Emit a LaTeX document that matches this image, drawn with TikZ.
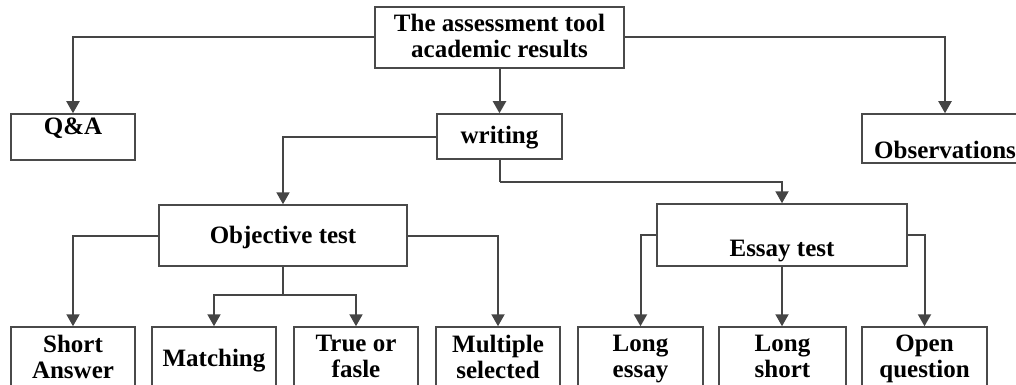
\documentclass[tikz,border=0pt]{standalone}
\usepackage{fontspec}
\setmainfont{Liberation Serif}
\usetikzlibrary{arrows.meta}
\definecolor{linec}{HTML}{454545}
\definecolor{boxc}{HTML}{4A4A4A}
\tikzset{
  x=1pt, y=-1pt,
  box/.style={draw=boxc, line width=1.5pt, inner sep=0pt, fill=white},
  txt/.style={inner sep=0pt, font=\bfseries\fontsize{25}{26}\selectfont, align=center, text=black},
  conn/.style={draw=linec, line width=2pt, -{Triangle[width=13pt,length=12pt]}},
  plain/.style={draw=linec, line width=2pt},
}
\begin{document}
\begin{tikzpicture}
\useasboundingbox (0,0) rectangle (1016,385);
% boxes
\node[box, minimum width=249pt, minimum height=61pt] (root) at (499.5,37.5) {};
\node[box, minimum width=124pt, minimum height=46pt] (qa) at (73,137) {};
\node[box, minimum width=125pt, minimum height=45pt] (writing) at (499.5,136.5) {};
\node[box, minimum width=166pt, minimum height=49pt] (obs) at (945,138.5) {};
\node[box, minimum width=248pt, minimum height=61pt] (obj) at (283,235.5) {};
\node[box, minimum width=250pt, minimum height=62pt] (essay) at (782,235) {};
\node[box, minimum width=124pt, minimum height=68pt] (short) at (73,361) {};
\node[box, minimum width=124pt, minimum height=68pt] (match) at (214,361) {};
\node[box, minimum width=124pt, minimum height=68pt] (tf) at (356,361) {};
\node[box, minimum width=124pt, minimum height=68pt] (multi) at (498,361) {};
\node[box, minimum width=125pt, minimum height=68pt] (lessay) at (640.5,361) {};
\node[box, minimum width=127pt, minimum height=68pt] (lshort) at (782.5,361) {};
\node[box, minimum width=125pt, minimum height=68pt] (openq) at (924.5,361) {};
% texts
\node[txt, anchor=north] (rootT) at (499.5,14) {The assessment tool\\academic results};
\node[txt, anchor=base] (qaT) at (73,135) {Q\&A};
\node[txt, anchor=base] (writingT) at (499.5,143) {writing};
\node[txt, anchor=base west] (obsT) at (874,158) {Observations};
\node[txt, anchor=base] (objT) at (283,243) {Objective test};
\node[txt, anchor=base] (essayT) at (782,256) {Essay test};
\node[txt, anchor=north] (shortT) at (73,335) {Short\\Answer};
\node[txt, anchor=base] (matchT) at (214,366) {Matching};
\node[txt, anchor=north] (tfT) at (356,335) {True or\\fasle};
\node[txt, anchor=north] (multiT) at (498,335) {Multiple\\selected};
\node[txt, anchor=north] (lessayT) at (640.5,335) {Long\\essay};
\node[txt, anchor=north] (lshortT) at (782.5,335) {Long\\short};
\node[txt, anchor=north] (openqT) at (924.5,335) {Open\\question};
% connectors
\coordinate (wj) at (499.5,182);
\coordinate (oj) at (283,295);
\draw[conn] (root.west) -| (qa.north);
\draw[conn] (root.east) -| (obs.north);
\draw[conn] (root.south) -- (writing.north);
\draw[conn] (writing.west) -| (obj.north);
\draw[plain] (writing.south) -- (wj);
\draw[conn] (wj) -| (essay.north);
\draw[conn] (obj.west) -| (short.north);
\draw[conn] (obj.east) -| (multi.north);
\draw[plain] (obj.south) -- (oj);
\draw[conn] (oj) -| (match.north);
\draw[conn] (oj) -| (tf.north);
\draw[conn] (essay.west) -| (lessay.north);
\draw[conn] (essay.south) -- (essay.south |- lshort.north);
\draw[conn] (essay.east) -| (openq.north);
\end{tikzpicture}
\end{document}
